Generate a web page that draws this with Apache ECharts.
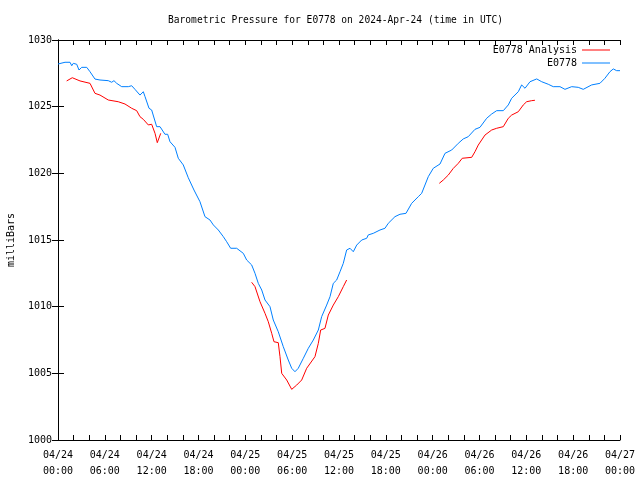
<!DOCTYPE html>
<html>
<head>
<meta charset="utf-8">
<script src="https://cdn.jsdelivr.net/npm/echarts@6/dist/echarts.min.js"></script>
<style>html,body{margin:0;padding:0;background:#fff}#c{width:640px;height:480px}</style>
</head>
<body>
<div id="c"></div>
<script>
// Hours since 2024-04-24 00:00 UTC
var blueHours = [0,0.9,1.54,1.76,1.96,2.4,2.69,3.04,3.68,4.1,4.74,5.38,6.44,6.88,7.17,7.52,8.16,9.01,9.44,9.65,9.86,10.5,10.93,11.15,11.66,12,12.64,13.07,13.7,14.05,14.35,14.99,15.41,16.05,16.69,17.42,18.19,18.83,19.47,19.9,20.54,21.18,21.61,22.12,22.89,23.74,24.17,24.81,25.24,25.66,26.1,26.52,27.16,27.58,28.22,28.86,29.5,29.94,30.36,30.78,31.43,32.07,32.71,33.35,33.78,34.42,34.85,35.27,35.7,36.13,36.55,36.98,37.41,37.83,38.27,38.91,39.55,39.75,40.39,41.25,41.89,42.31,43.17,43.81,44.58,45.31,46.16,46.59,47.44,48.08,48.94,49.58,50.44,51.28,51.92,52.56,53.42,54.06,54.92,55.56,56.2,57.05,57.69,58.12,58.97,59.4,59.83,60.47,61.33,61.97,62.81,63.45,64.31,64.95,65.81,66.65,67.29,68.37,69.43,70.07,70.71,71.14,71.57,72];
var blueValues = [1028.2,1028.33,1028.33,1028.07,1028.25,1028.18,1027.75,1027.95,1027.95,1027.62,1027.07,1027.0,1026.95,1026.83,1026.95,1026.75,1026.5,1026.5,1026.57,1026.7,1026.3,1025.87,1026.12,1025.75,1024.88,1024.75,1023.5,1023.5,1022.93,1022.93,1022.37,1021.95,1021.13,1020.63,1019.67,1018.75,1017.87,1016.75,1016.5,1016.13,1015.75,1015.25,1014.87,1014.38,1014.38,1014.0,1013.5,1013.13,1012.5,1011.75,1011.25,1010.5,1010.0,1009.0,1008.12,1007.0,1006.0,1005.38,1005.12,1005.38,1006.13,1006.88,1007.5,1008.25,1009.25,1010.12,1010.75,1011.75,1012.0,1012.62,1013.25,1014.25,1014.38,1014.12,1014.62,1015.0,1015.13,1015.38,1015.5,1015.75,1015.88,1016.25,1016.75,1016.93,1017.0,1017.75,1018.25,1018.5,1019.75,1020.38,1020.7,1021.5,1021.75,1022.25,1022.58,1022.75,1023.3,1023.45,1024.13,1024.45,1024.7,1024.7,1025.13,1025.63,1026.12,1026.63,1026.38,1026.87,1027.08,1026.87,1026.68,1026.5,1026.5,1026.3,1026.5,1026.45,1026.3,1026.63,1026.75,1027.13,1027.62,1027.83,1027.7,1027.7];

// Analysis series: null marks a gap between segments
var redHours = [1.11,1.83,2.82,4.1,4.74,5.38,6.44,7.72,8.58,9.44,10.08,10.5,10.93,11.57,12.0,12.43,12.72,13.16,
  18,
  24.81,25.24,25.88,26.52,26.94,27.38,27.67,28.22,28.44,28.66,29.3,29.94,30.58,31.22,31.86,32.92,33.35,33.65,34.2,34.63,35.27,35.91,36.55,36.98,
  42,
  48.85,49.36,50.0,50.64,51.28,51.79,53.0,53.42,53.84,54.7,55.56,56.2,57.05,57.69,58.12,58.97,59.61,60.04,60.68,61.1];
var redValues = [1026.93,1027.17,1026.93,1026.75,1026.0,1025.87,1025.5,1025.37,1025.2,1024.88,1024.7,1024.25,1024.05,1023.63,1023.68,1023.0,1022.3,1023.0,
  null,
  1011.83,1011.5,1010.37,1009.5,1008.87,1008.0,1007.37,1007.3,1006.25,1005.0,1004.5,1003.8,1004.12,1004.5,1005.38,1006.25,1007.25,1008.25,1008.37,1009.37,1010.12,1010.75,1011.5,1012.0,
  null,
  1019.25,1019.5,1019.87,1020.37,1020.75,1021.13,1021.2,1021.62,1022.12,1022.87,1023.25,1023.38,1023.5,1024.13,1024.37,1024.62,1025.13,1025.37,1025.45,1025.48];

var titleText = 'Barometric Pressure for E0778 on 2024-Apr-24 (time in UTC)';
var yTicks = [1000,1005,1010,1015,1020,1025,1030];
var seriesNames = ['E0778 Analysis','E0778'];

function pairs(xs, ys){
  return xs.map(function(x,i){ return ys[i]===null ? [x,'-'] : [x, ys[i]]; });
}
function fmtX(v){
  var d = 24 + Math.floor(v/24);
  var h = v % 24;
  return '04/' + d + '\n' + (h<10?'0':'') + h + ':00';
}
var font = 'DejaVu Sans Mono';
var axisLine = {lineStyle:{color:'#000',width:1}};
var chart = echarts.init(document.getElementById('c'), null, {renderer:'canvas'});
chart.setOption({
  animation:false,
  backgroundColor:'#fff',
  title:{text:titleText, left:163, top:10, textStyle:{fontFamily:font,fontSize:9.6,fontWeight:'normal',color:'#000'}},
  legend:[
    {data:[{name:seriesNames[0],icon:'rect'}], right:30, top:45, itemWidth:28, itemHeight:1, align:'right', padding:0,
     textStyle:{fontFamily:font,fontSize:10,color:'#000'}},
    {data:[{name:seriesNames[1],icon:'rect'}], right:30, top:58, itemWidth:28, itemHeight:1, align:'right', padding:0,
     textStyle:{fontFamily:font,fontSize:10,color:'#000'}}
  ],
  grid:{left:58,right:20,top:40,bottom:40,containLabel:false,outerBoundsMode:'none'},
  xAxis:[
    {type:'value',min:0,max:72,interval:6,position:'bottom',axisLine:axisLine,
     axisTick:{inside:true,length:5,lineStyle:{color:'#000'}},
     minorTick:{show:true,splitNumber:3,length:5,lineStyle:{color:'#000'}},
     splitLine:{show:false},
     axisLabel:{formatter:fmtX,fontFamily:font,fontSize:10,color:'#000',margin:7,lineHeight:16}},
    {type:'value',min:0,max:72,interval:6,position:'top',axisLine:axisLine,
     axisTick:{inside:true,length:5,lineStyle:{color:'#000'}},
     minorTick:{show:true,splitNumber:3,length:5,lineStyle:{color:'#000'}},
     splitLine:{show:false},axisLabel:{show:false}}
  ],
  yAxis:[
    {type:'value',min:yTicks[0],max:yTicks[yTicks.length-1],interval:5,axisLine:Object.assign({show:true},axisLine),
     axisTick:{show:true,inside:true,length:6,lineStyle:{color:'#000'}},
     splitLine:{show:false},
     axisLabel:{fontFamily:font,fontSize:10,color:'#000',margin:6,formatter:function(v){return String(v);}},
     name:'milliBars',nameLocation:'middle',nameGap:42,nameRotate:90,
     nameTextStyle:{fontFamily:font,fontSize:10,color:'#000'}},
    {type:'value',min:yTicks[0],max:yTicks[yTicks.length-1],interval:5,position:'right',axisLine:Object.assign({show:true},axisLine),
     axisTick:{show:true,inside:true,length:6,lineStyle:{color:'#000'}},
     splitLine:{show:false},axisLabel:{show:false}}
  ],
  series:[
    {name:seriesNames[0],type:'line',data:pairs(redHours,redValues),symbol:'none',connectNulls:false,
     itemStyle:{color:'#ff0000'},lineStyle:{color:'#ff0000',width:1}},
    {name:seriesNames[1],type:'line',data:pairs(blueHours,blueValues),symbol:'none',
     itemStyle:{color:'#0080ff'},lineStyle:{color:'#0080ff',width:1}}
  ]
});
</script>
</body>
</html>
